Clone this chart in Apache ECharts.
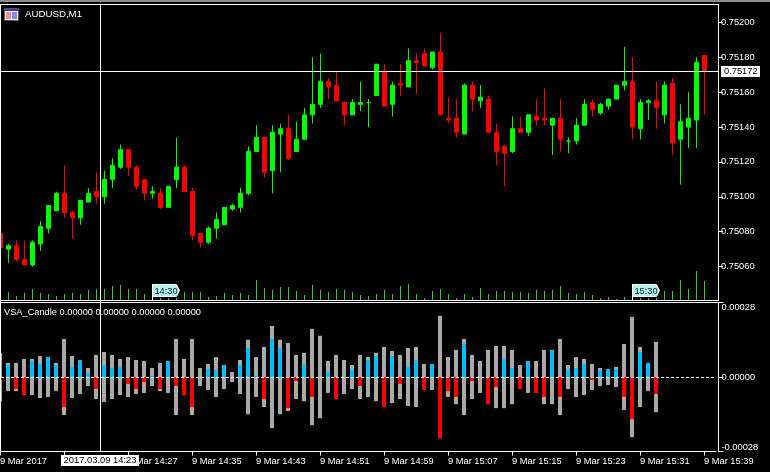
<!DOCTYPE html>
<html><head><meta charset="utf-8">
<style>html,body{margin:0;padding:0;background:#000}#c{width:770px;height:472px}</style>
<script src="https://cdn.jsdelivr.net/npm/echarts@6/dist/echarts.min.js"></script>
</head><body><div id="c"></div>
<script>
// prices in 1/100000, 89 one-minute bars
const opens=[75079,75070,75072,75064,75061,75073,75082,75092,75102,75091,75088,75097,75103,75100,75110,75117,75127,75117,75110,75102,75102,75094,75110,75117,75103,75079,75074,75082,75084,75093,75094,75102,75126,75134,75115,75136,75139,75126,75133,75147,75153,75166,75164,75154,75147,75153,75154,75158,75172,75153,75165,75163,75178,75182,75174,75183,75145,75145,75136,75164,75155,75156,75137,75129,75126,75139,75137,75146,75145,75141,75145,75132,75132,75141,75154,75148,75152,75156,75164,75166,75139,75154,75155,75147,75165,75133,75140,75144,75181];
const closes=[75071,75072,75064,75061,75074,75083,75095,75102,75091,75088,75098,75102,75100,75110,75118,75127,75117,75106,75102,75103,75094,75106,75117,75103,75078,75074,75082,75087,75094,75095,75102,75126,75134,75114,75137,75139,75122,75133,75147,75153,75166,75163,75155,75147,75154,75154,75154,75176,75152,75164,75164,75178,75177,75175,75183,75147,75144,75137,75164,75156,75157,75137,75126,75125,75139,75137,75147,75144,75144,75145,75133,75132,75141,75153,75150,75153,75156,75164,75166,75140,75154,75155,75151,75164,75131,75143,75145,75177,75172];
const highs=[75079,75073,75075,75075,75075,75086,75095,75103,75118,75092,75098,75105,75114,75115,75122,75130,75127,75118,75110,75106,75105,75106,75134,75118,75105,75079,75083,75091,75094,75096,75105,75129,75141,75134,75141,75142,75147,75143,75151,75180,75182,75168,75172,75154,75156,75166,75156,75176,75176,75166,75176,75185,75182,75185,75183,75194,75157,75156,75165,75166,75164,75158,75142,75130,75146,75146,75147,75156,75162,75145,75156,75134,75145,75156,75156,75154,75156,75164,75186,75180,75156,75156,75166,75166,75168,75153,75160,75180,75181];
const lows=[75071,75062,75063,75061,75060,75069,75079,75092,75088,75076,75084,75097,75096,75096,75105,75116,75112,75104,75098,75099,75093,75094,75105,75103,75075,75071,75073,75076,75084,75092,75091,75101,75126,75111,75102,75114,75121,75126,75133,75142,75151,75156,75155,75141,75147,75149,75140,75158,75152,75146,75158,75163,75159,75175,75173,75147,75142,75134,75136,75149,75151,75137,75118,75106,75125,75137,75135,75141,75141,75124,75126,75125,75130,75141,75146,75147,75150,75156,75161,75133,75133,75144,75139,75142,75124,75107,75128,75128,75147];
// tick volume on the price panel
const volumes=[0,8,4,7,11,7,6,4,6,7,6,10,11,11,14,15,11,11,6,4,2,2,2,8,8,8,3,4,7,5,7,5,20,12,10,13,13,9,5,15,10,8,11,10,8,5,4,6,10,6,14,16,6,2,9,11,6,2,6,3,12,6,9,9,8,8,7,10,9,10,14,7,6,8,5,2,3,1,3,4,2,2,2,9,9,20,11,29,19];
// VSA_Candle, in 1/100000
const spread=[9.1,5.3,5.3,6.8,6.8,7.9,7.5,5.3,14.3,7.9,6.4,3.4,8.3,9.4,8.3,6.8,7.5,6.4,6.0,3.4,5.3,6.0,14.3,6.8,14.3,3.4,4.9,7.5,4.5,1.9,6.4,14.0,7.5,11.3,19.2,14.0,12.8,8.3,9.1,18.1,15.5,6.0,8.3,6.4,4.5,8.3,7.5,9.1,11.3,9.8,8.3,10.9,11.3,4.9,4.9,23.0,7.5,10.2,14.3,8.3,6.0,10.2,11.7,11.7,10.2,4.5,6.0,6.0,10.2,10.2,14.3,4.5,7.5,6.8,4.9,3.4,3.0,3.8,12.4,22.6,11.3,5.3,13.2];
const bullish=[0,4.5,0,0,6.0,4.9,7.5,4.5,0,3.8,6.4,1.5,0,4.5,3.4,3.8,0,0,0,0.4,0,6.0,0,0,0,0,3.0,2.6,4.5,0,4.5,10.9,0.4,0,14.3,10.9,0,0,4.9,0,0,1.9,0,0,2.6,0,6.4,7.9,0,7.9,0,3.8,6.4,0,4.9,0,0,0,12.4,0,0,0,0,6.8,3.4,0,6.0,0,0,10.2,0,2.6,3.4,4.9,0,2.6,3.0,3.0,0,0,9.4,5.3,0];
const bearish=[1.1,0,4.5,6.8,0,0,0,0,11.3,0,0,0,4.5,0,0,0,2.6,4.5,1.9,0,4.5,0,3.4,6.8,11.3,0,0,0,0,0,0,0,0,8.3,0,0,11.7,1.5,0,7.5,0,0,8.3,0,0,3.4,0,0,11.3,0,2.6,0,0,4.9,0,23.0,5.3,7.5,0,1.5,0,10.2,3.8,0,0,4.5,0,6.0,7.5,0,7.5,0,0,0,1.1,0,0,0,7.5,15.8,0,0,6.4];
const priceTicks=[0.7506,0.7508,0.751,0.7512,0.7514,0.7516,0.7518,0.752];
const timeTicks=['9 Mar 2017','9 Mar 14:19','9 Mar 14:27','9 Mar 14:35','9 Mar 14:43','9 Mar 14:51','9 Mar 14:59','9 Mar 15:07','9 Mar 15:15','9 Mar 15:23','9 Mar 15:31','9 Mar 15:39'];
const flags=[{index:19,text:'14:30'},{index:79,text:'15:30'}];
const lastPrice=0.75172, crossX=100;
const categories=Array.from({length:90},(_,i)=>String(i));
const FONT='Liberation Sans', FS=9.3;
const W='#ffffff';
const ohlc=opens.map((o,i)=>[o/1e5,closes[i]/1e5,lows[i]/1e5,highs[i]/1e5]);
const sc=a=>a.map(v=>v?v/1e5:null);
const chart=echarts.init(document.getElementById('c'),null,{renderer:'canvas'});
const lab={color:W,fontFamily:FONT,fontSize:FS};
const barBase={type:'bar',xAxisIndex:1,yAxisIndex:2,barWidth:4,barGap:'-100%',silent:true};
chart.setOption({
 animation:false,backgroundColor:'#000',
 grid:[{left:-3.5,width:720,top:4.5,height:296,outerBoundsMode:'none'},{left:-4,width:720,top:302.5,height:149,outerBoundsMode:'none'}],
 xAxis:[
  {type:'category',gridIndex:0,data:categories,show:false},
  {type:'category',gridIndex:1,data:categories,
   axisLine:{onZero:false,lineStyle:{color:W,width:1}},
   axisTick:{show:true,interval:7,length:4,alignWithLabel:true,lineStyle:{color:W}},
   axisLabel:Object.assign({interval:7,align:'left',margin:5,hideOverlap:false,formatter:(v,i)=>timeTicks[i/8]},lab),
   splitLine:{show:false}}],
 yAxis:[
  {type:'value',gridIndex:0,position:'right',offset:1.5,min:0.750406,max:0.752102,
   axisLine:{show:true,lineStyle:{color:W}},
   axisTick:{show:true,length:5,customValues:priceTicks,lineStyle:{color:W}},
   axisLabel:Object.assign({margin:3,customValues:priceTicks,formatter:v=>v.toFixed(5)},lab),
   splitLine:{show:false}},
  {type:'value',gridIndex:0,show:false,min:-0.5,max:295.5,splitLine:{show:false}},
  {type:'value',gridIndex:1,position:'right',offset:2.5,min:-0.00028,max:0.00028,interval:0.00028,
   axisLine:{show:true,onZero:false,lineStyle:{color:W}},
   axisTick:{show:true,length:5,lineStyle:{color:W}},
   axisLabel:Object.assign({margin:3,verticalAlignMinLabel:'bottom',verticalAlignMaxLabel:'top',formatter:v=>v.toFixed(5)},lab),
   splitLine:{show:false}}],
 series:[
  {type:'bar',xAxisIndex:0,yAxisIndex:1,data:volumes,barWidth:1,silent:true,itemStyle:{color:'#32cd32'}},
  {type:'candlestick',xAxisIndex:0,yAxisIndex:0,data:ohlc,barWidth:4,silent:true,
   itemStyle:{color:'#00ff00',color0:'#ff0000',borderColor:'#00ff00',borderColor0:'#ff0000',borderColorDoji:'#00ff00',borderWidth:1}},
  Object.assign({},barBase,{data:sc(spread),itemStyle:{color:'#a9a9a9'}}),
  Object.assign({},barBase,{data:sc(spread.map(v=>-v)),itemStyle:{color:'#a9a9a9'}}),
  Object.assign({},barBase,{data:sc(bullish),itemStyle:{color:'#00bfff'}}),
  Object.assign({},barBase,{data:sc(bearish.map(v=>-v)),itemStyle:{color:'#ff0000'},
   markLine:{silent:true,symbol:'none',label:{show:false},data:[{yAxis:0}],lineStyle:{color:W,type:[3,2],width:1}}})
 ]
});
const line=(x1,y1,x2,y2,z)=>({type:'line',z:z||20,silent:true,shape:{x1,y1,x2,y2},style:{stroke:W,lineWidth:1}});
const txt=(x,y,t,fill,size)=>({type:'text',z:30,silent:true,x,y,style:{text:t,fill:fill||W,font:(size||FS)+'px "'+FONT+'"',align:'left',verticalAlign:'middle'}});
const box=(x,y,w,h)=>({type:'rect',z:29,silent:true,shape:{x,y,width:w,height:h},style:{fill:W}});
const lastY=71.5;
const g=[
 {type:'rect',z:25,silent:true,shape:{x:0,y:0,width:770,height:2},style:{fill:'#8c8c8c'}},
 line(0,4.5,718,4.5),line(0.5,4,0.5,452),line(0,300.5,718,300.5),line(0,302.5,723,302.5),
 line(0,lastY,718,lastY),line(crossX+0.5,4,crossX+0.5,451),
 // window icon
 {type:'rect',z:25,silent:true,shape:{x:4.5,y:8.5,width:14,height:12},style:{fill:'#f4f4f8',stroke:'#555',lineWidth:1}},
 {type:'rect',z:26,silent:true,shape:{x:5,y:9,width:13,height:2},style:{fill:'#3838c8'}},
 {type:'rect',z:26,silent:true,shape:{x:6,y:12,width:5,height:7},style:{fill:'#f09090'}},
 {type:'rect',z:26,silent:true,shape:{x:12,y:12,width:5,height:7},style:{fill:'#8888f0'}},
 txt(25,14.5,'AUDUSD,M1',W,9.7),
 txt(4,312,'VSA_Candle 0.00000 0.00000 0.00000 0.00000',W,9.25),
 box(721,66,39,11),txt(724,71.5,lastPrice.toFixed(5),'#000',9.3),
 box(61,455,78,11),txt(63.5,460.5,'2017.03.09 14:23','#000',9.4)
];
flags.forEach(f=>{
 const x=chart.convertToPixel({xAxisIndex:0},f.index);
 g.push({type:'polygon',z:28,silent:true,shape:{points:[[x,284.5],[x+24,284.5],[x+27,290.5],[x+24,296.5],[x,296.5]]},style:{fill:'#b4f0f0',stroke:W,lineWidth:1}});
 g.push(line(x,296.5,x,300.5,28));
 g.push(txt(x+2,291,f.text,'#062020',9.2));
});
chart.setOption({graphic:g});
</script></body></html>
